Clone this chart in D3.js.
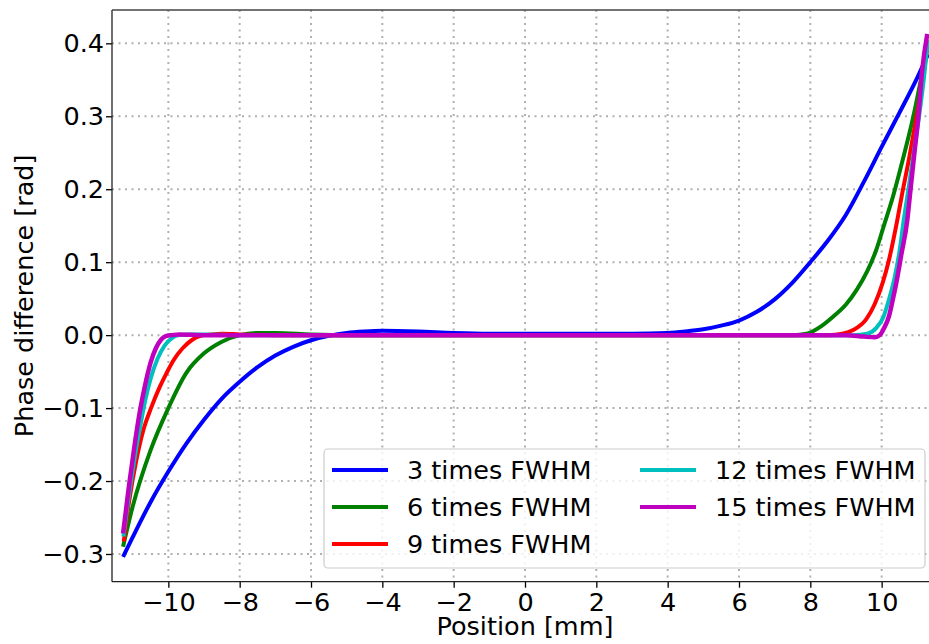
<!DOCTYPE html>
<html>
<head>
<meta charset="utf-8">
<script src="https://cdn.jsdelivr.net/npm/d3@7"></script>
<style>
  body { margin: 0; background: white; }
  svg text { font-family: "DejaVu Sans", sans-serif; }
</style>
</head>
<body>
<script>
/*********** phase difference vs position ***********/

var seriesNames = ['3 times FWHM', '6 times FWHM', '9 times FWHM', '12 times FWHM', '15 times FWHM'];
var seriesColors = ['#0000ff', '#008000', '#ff0000', '#00bfbf', '#bf00bf'];

// position [mm], phase difference [rad]
var pos3   = [-11.27, -11.0, -10.5, -10.0, -9.5, -9.0, -8.5, -8.0, -7.5, -7.0, -6.5, -6.0, -5.5, -5.0, -4.5, -4.0, -3.0, -2.0, -1.0, 0, 1, 2, 3, 4, 4.5, 5, 5.5, 6, 6.5, 7, 7.5, 8, 8.5, 9, 9.5, 10, 10.5, 11, 11.3];
var phase3 = [-0.304, -0.277, -0.229, -0.187, -0.149, -0.116, -0.087, -0.064, -0.044, -0.028, -0.016, -0.007, -0.001, 0.003, 0.005, 0.006, 0.005, 0.003, 0.002, 0.002, 0.002, 0.002, 0.002, 0.003, 0.005, 0.008, 0.013, 0.020, 0.032, 0.049, 0.072, 0.100, 0.130, 0.165, 0.210, 0.258, 0.305, 0.353, 0.385];

var pos6   = [-11.27, -11.0, -10.5, -10.0, -9.5, -9.0, -8.5, -8.0, -7.5, -7.0, -6.0, -5.0, 0, 5, 7.5, 7.9, 8.3, 8.63, 9.0, 9.3, 9.6, 9.85, 10.05, 10.33, 10.6, 10.89, 11.1, 11.3];
var phase6 = [-0.290, -0.235, -0.158, -0.100, -0.052, -0.025, -0.009, 0.000, 0.003, 0.003, 0.001, 0.000, 0.000, 0.000, 0.000, 0.002, 0.012, 0.025, 0.042, 0.062, 0.088, 0.117, 0.148, 0.192, 0.242, 0.300, 0.350, 0.400];

var pos9   = [-11.25, -11.1, -10.9, -10.7, -10.47, -10.25, -10.05, -9.85, -9.6, -9.35, -9.1, -8.8, -8.5, -8.0, -7.0, 0, 8.5, 8.9, 9.2, 9.57, 9.8, 10.03, 10.2, 10.4, 10.56, 10.78, 10.98, 11.15, 11.3];
var phase9 = [-0.283, -0.228, -0.172, -0.130, -0.098, -0.072, -0.052, -0.034, -0.018, -0.007, -0.001, 0.001, 0.002, 0.001, 0.000, 0.000, 0.000, 0.002, 0.007, 0.022, 0.042, 0.072, 0.102, 0.148, 0.190, 0.245, 0.300, 0.350, 0.400];

var pos12   = [-11.26, -11.1, -10.95, -10.8, -10.65, -10.5, -10.3, -10.1, -9.9, -9.7, -9.4, -9.0, -8.0, 0, 9.2, 9.6, 9.85, 10.05, 10.2, 10.36, 10.5, 10.62, 10.75, 10.9, 11.05, 11.18, 11.3];
var phase12 = [-0.276, -0.218, -0.170, -0.128, -0.090, -0.060, -0.032, -0.014, -0.004, 0.000, 0.001, 0.001, 0.000, 0.000, 0.000, 0.002, 0.010, 0.025, 0.048, 0.078, 0.115, 0.158, 0.200, 0.250, 0.300, 0.350, 0.405];

var pos15   = [-11.27, -11.1, -10.95, -10.8, -10.65, -10.5, -10.35, -10.2, -10.05, -9.9, -9.7, -9.0, 0, 9.0, 9.5, 9.8, 9.95, 10.05, 10.2, 10.31, 10.4, 10.55, 10.72, 10.81, 10.92, 11.03, 11.13, 11.28];
var phase15 = [-0.272, -0.205, -0.152, -0.105, -0.068, -0.038, -0.018, -0.006, -0.001, 0.000, 0.001, 0.000, 0.000, 0.000, -0.002, -0.003, 0.000, 0.008, 0.025, 0.048, 0.069, 0.110, 0.158, 0.200, 0.250, 0.300, 0.360, 0.413];

var allPos = [pos3, pos6, pos9, pos12, pos15];
var allPhase = [phase3, phase6, phase9, phase12, phase15];

var xTicks = [-10, -8, -6, -4, -2, 0, 2, 4, 6, 8, 10];
var yTicks = [-0.3, -0.2, -0.1, 0.0, 0.1, 0.2, 0.3, 0.4];

var width = 929, height = 644;
var plotLeft = 112, plotTop = 10, plotRight = 938, plotBottom = 581.7;
var fontSize = 25.5;

var svg = d3.select('body').append('svg')
  .attr('width', width)
  .attr('height', height);

var x = d3.scaleLinear().domain([-11.58, 11.58]).range([plotLeft, plotRight]);
var y = d3.scaleLinear().domain([-0.338, 0.4457]).range([plotBottom, plotTop]);

svg.append('clipPath').attr('id', 'plot')
  .append('rect')
  .attr('x', plotLeft).attr('y', plotTop)
  .attr('width', plotRight - plotLeft).attr('height', plotBottom - plotTop);

// grid
var grid = svg.append('g');
grid.selectAll('.gx').data(xTicks).enter().append('line')
  .attr('x1', function(d) { return x(d); })
  .attr('x2', function(d) { return x(d); })
  .attr('y1', plotTop).attr('y2', plotBottom)
  .attr('stroke', '#b0b0b0').attr('stroke-width', 2)
  .attr('stroke-dasharray', '2,4.5');
grid.selectAll('.gy').data(yTicks).enter().append('line')
  .attr('x1', plotLeft).attr('x2', plotRight)
  .attr('y1', function(d) { return y(d); })
  .attr('y2', function(d) { return y(d); })
  .attr('stroke', '#b0b0b0').attr('stroke-width', 2)
  .attr('stroke-dasharray', '2,4.5');

// curves
var line = d3.line()
  .x(function(d) { return x(d[0]); })
  .y(function(d) { return y(d[1]); })
  .curve(d3.curveMonotoneX);

var seriesData = allPos.map(function(p, i) {
  return p.map(function(v, j) { return [v, allPhase[i][j]]; });
});

svg.append('g').attr('clip-path', 'url(#plot)')
  .selectAll('path').data(seriesData).enter().append('path')
  .attr('d', line)
  .attr('fill', 'none')
  .attr('stroke', function(d, i) { return seriesColors[i]; })
  .attr('stroke-width', function(d, i) { return i == 4 ? 4.5 : 4; })
  .attr('stroke-linejoin', 'round');

// axes
var xAxis = svg.append('g')
  .attr('transform', 'translate(0,' + plotBottom + ')')
  .call(d3.axisBottom(x).tickValues(xTicks).tickSize(6).tickPadding(5).tickFormat(d3.format('d')));
var yAxis = svg.append('g')
  .attr('transform', 'translate(' + plotLeft + ',0)')
  .call(d3.axisLeft(y).tickValues(yTicks).tickSize(6).tickPadding(2).tickFormat(d3.format('.1f')));

[xAxis, yAxis].forEach(function(a) {
  a.select('.domain').remove();
  a.selectAll('line').attr('stroke', '#000').attr('stroke-width', 1.3);
  a.selectAll('text')
    .attr('font-family', '"DejaVu Sans", sans-serif')
    .attr('font-size', fontSize)
    .attr('fill', '#000');
});

// spines
svg.append('line').attr('x1', plotLeft).attr('x2', plotLeft).attr('y1', plotTop).attr('y2', plotBottom)
  .attr('stroke', '#222').attr('stroke-width', 1.3);
svg.append('line').attr('x1', plotLeft).attr('x2', plotRight).attr('y1', plotBottom).attr('y2', plotBottom)
  .attr('stroke', '#222').attr('stroke-width', 1.3);
svg.append('line').attr('x1', plotLeft).attr('x2', plotRight).attr('y1', plotTop).attr('y2', plotTop)
  .attr('stroke', '#444').attr('stroke-width', 1.3);
svg.append('line').attr('x1', plotRight).attr('x2', plotRight).attr('y1', plotTop).attr('y2', plotBottom)
  .attr('stroke', '#444').attr('stroke-width', 1.3);

// labels
svg.append('text').text('Position [mm]')
  .attr('x', (plotLeft + plotRight) / 2)
  .attr('y', 635)
  .attr('text-anchor', 'middle')
  .attr('font-size', fontSize);

svg.append('text').text('Phase difference [rad]')
  .attr('transform', 'translate(33,' + ((plotTop + plotBottom) / 2) + ') rotate(-90)')
  .attr('text-anchor', 'middle')
  .attr('font-size', fontSize);

// legend
var legend = svg.append('g');
legend.append('rect')
  .attr('x', 324).attr('y', 449)
  .attr('width', 601).attr('height', 119)
  .attr('rx', 4)
  .attr('fill', 'white').attr('fill-opacity', 0.8)
  .attr('stroke', '#cccccc').attr('stroke-width', 1.2);

var colX = [332, 640];
var rowY = [470, 507, 544];

var items = legend.selectAll('.item').data(seriesNames).enter().append('g')
  .attr('transform', function(d, i) {
    return 'translate(' + colX[Math.floor(i / 3)] + ',' + rowY[i % 3] + ')';
  });
items.append('line')
  .attr('x1', 0).attr('x2', 56)
  .attr('stroke', function(d, i) { return seriesColors[i]; })
  .attr('stroke-width', 4);
items.append('text').text(function(d) { return d; })
  .attr('x', 75)
  .attr('y', 9)
  .attr('font-size', fontSize);
</script>
</body>
</html>
